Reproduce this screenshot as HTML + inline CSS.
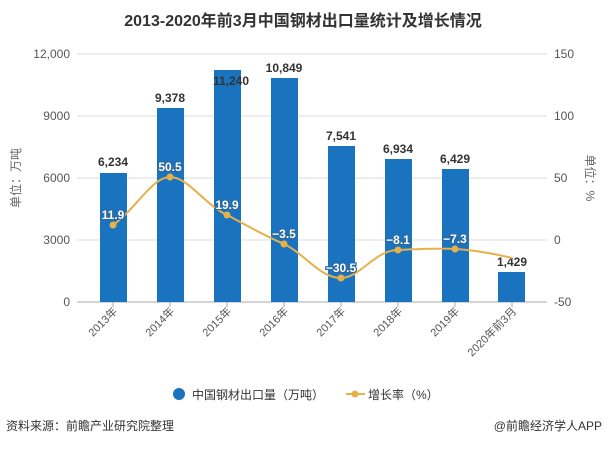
<!DOCTYPE html>
<html><head><meta charset="utf-8"><style>
body{margin:0;background:#fff;width:606px;height:447px;overflow:hidden}
text{font-family:"Liberation Sans","Noto Sans CJK SC",sans-serif}
</style></head><body>
<svg width="606" height="447" xmlns="http://www.w3.org/2000/svg">
<text x="303" y="26" text-anchor="middle" font-size="16" font-weight="bold" fill="#333">2013-2020年前3月中国钢材出口量统计及增长情况</text>
<g stroke="#ddd" stroke-width="1">
<line x1="77" x2="547" y1="54" y2="54"/><line x1="77" x2="547" y1="116" y2="116"/>
<line x1="77" x2="547" y1="178" y2="178"/><line x1="77" x2="547" y1="240" y2="240"/>
</g>
<line x1="77" x2="547" y1="302" y2="302" stroke="#aaa"/>
<g font-size="12" fill="#555" text-anchor="end">
<text x="70" y="58">12,000</text><text x="70" y="120">9000</text><text x="70" y="182">6000</text><text x="70" y="244">3000</text><text x="70" y="306">0</text>
</g>
<g font-size="12" fill="#555">
<text x="554" y="58">150</text><text x="554" y="120">100</text><text x="554" y="182">50</text><text x="554" y="244">0</text><text x="554" y="306">-50</text>
</g>
<text transform="translate(20,178) rotate(-90)" text-anchor="middle" font-size="12" fill="#666">单位：万吨</text>
<text transform="translate(586,178) rotate(90)" text-anchor="middle" font-size="12" fill="#666">单位：%</text>
<g fill="#1a73bf">
<rect x="100" y="173" width="27" height="129"/>
<rect x="157" y="108" width="27" height="194"/>
<rect x="214" y="70" width="27" height="232"/>
<rect x="271" y="78" width="27" height="224"/>
<rect x="328" y="146" width="27" height="156"/>
<rect x="385" y="159" width="27" height="143"/>
<rect x="442" y="169" width="27" height="133"/>
<rect x="498" y="272" width="27" height="30"/>
</g>
<g font-size="12" font-weight="bold" fill="#333" text-anchor="middle">
<text x="113" y="166">6,234</text><text x="170" y="102">9,378</text><text x="231" y="85">11,240</text>
<text x="284" y="72">10,849</text><text x="341" y="140">7,541</text><text x="398" y="153">6,934</text>
<text x="455" y="163">6,429</text><text x="512" y="266">1,429</text>
</g>
<path d="M113,225 C135,210 152,177 170,177 C188,177 205,205 227,215 C248,226 265,236 284,244 C305,254 320,278 341,278 C360,278 375,250 398,250 C420,249 440,248 455,249 C475,250 495,254 512,258" fill="none" stroke="#e6b04a" stroke-width="2"/>
<g fill="#e6b04a">
<circle cx="113" cy="225" r="3.5"/><circle cx="170" cy="177" r="3.5"/><circle cx="227" cy="215" r="3.5"/>
<circle cx="284" cy="244" r="3.5"/><circle cx="341" cy="278" r="3.5"/><circle cx="398" cy="250" r="3.5"/>
<circle cx="455" cy="249" r="3.5"/>
</g>
<g font-size="12" font-weight="bold" fill="#fff" stroke="#2a6aa0" stroke-width="2.5" paint-order="stroke" text-anchor="middle">
<text x="113" y="219">11.9</text><text x="170" y="171">50.5</text><text x="227" y="209">19.9</text>
<text x="284" y="238">−3.5</text><text x="341" y="272">−30.5</text><text x="398" y="244">−8.1</text><text x="455" y="243">−7.3</text>
</g>
<g stroke="#aaa"><line x1="113" x2="113" y1="302" y2="307"/><line x1="170" x2="170" y1="302" y2="307"/><line x1="227" x2="227" y1="302" y2="307"/><line x1="284" x2="284" y1="302" y2="307"/><line x1="341" x2="341" y1="302" y2="307"/><line x1="398" x2="398" y1="302" y2="307"/><line x1="455" x2="455" y1="302" y2="307"/><line x1="512" x2="512" y1="302" y2="307"/></g>
<g font-size="11" fill="#555" text-anchor="end">
<text transform="translate(118,312) rotate(-45)">2013年</text>
<text transform="translate(175,312) rotate(-45)">2014年</text>
<text transform="translate(232,312) rotate(-45)">2015年</text>
<text transform="translate(289,312) rotate(-45)">2016年</text>
<text transform="translate(346,312) rotate(-45)">2017年</text>
<text transform="translate(403,312) rotate(-45)">2018年</text>
<text transform="translate(460,312) rotate(-45)">2019年</text>
<text transform="translate(517,312) rotate(-45)">2020年前3月</text>
</g>
<circle cx="179" cy="394" r="6" fill="#1a73bf"/>
<text x="192" y="399" font-size="12" fill="#333">中国钢材出口量（万吨）</text>
<line x1="346" x2="365" y1="394" y2="394" stroke="#e6b04a" stroke-width="2"/>
<circle cx="355" cy="394" r="3.5" fill="#e6b04a"/>
<text x="368" y="399" font-size="12" fill="#333">增长率（%）</text>
<text x="6" y="430" font-size="12" fill="#333">资料来源：前瞻产业研究院整理</text>
<text x="602" y="430" font-size="12" fill="#333" text-anchor="end">@前瞻经济学人APP</text>
</svg>
</body></html>
